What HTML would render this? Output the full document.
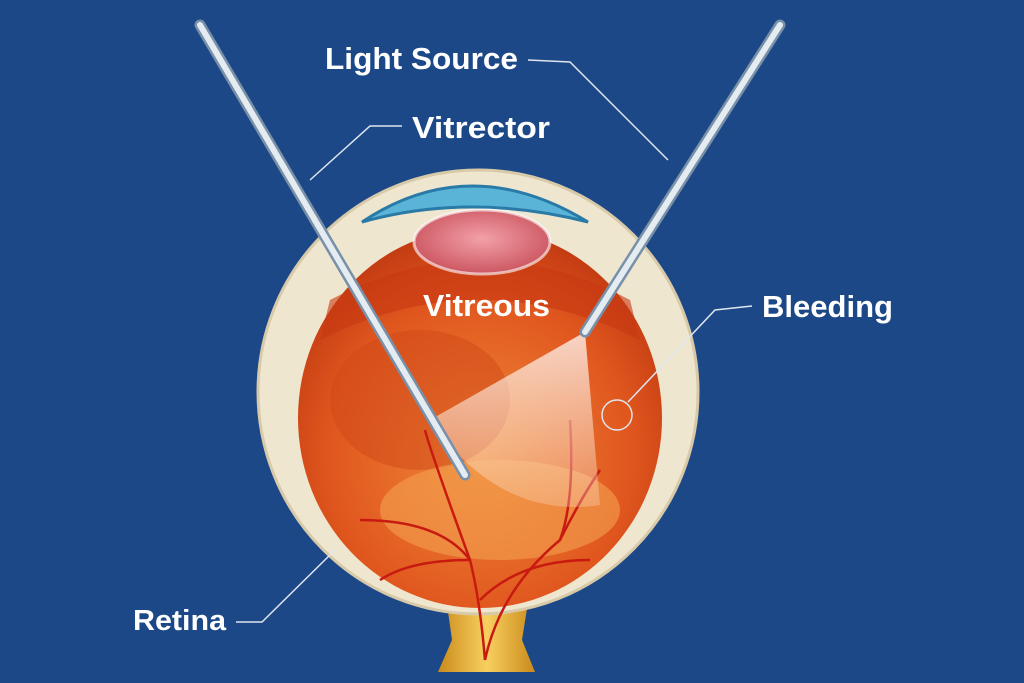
<!DOCTYPE html>
<html><head><meta charset="utf-8"><style>
html,body{margin:0;padding:0;background:#1e4a8a;}
svg{display:block}
text{font-family:"Liberation Sans",sans-serif;font-weight:bold;fill:#fff;}
</style></head><body>
<svg width="1024" height="683" viewBox="0 0 1024 683" xmlns="http://www.w3.org/2000/svg">
<defs>
<radialGradient id="inner" cx="50%" cy="60%" r="60%"><stop offset="0" stop-color="#f08a3a"/><stop offset="0.7" stop-color="#e0561e"/><stop offset="1" stop-color="#c23a12"/></radialGradient>
<radialGradient id="lens" cx="50%" cy="45%" r="60%"><stop offset="0" stop-color="#f3a0a8"/><stop offset="1" stop-color="#c8505a"/></radialGradient>
<linearGradient id="cone" x1="0" y1="0" x2="0" y2="1"><stop offset="0" stop-color="#fff" stop-opacity="0.75"/><stop offset="1" stop-color="#fde0c8" stop-opacity="0.3"/></linearGradient>
<linearGradient id="nerve" x1="0" y1="0" x2="1" y2="0"><stop offset="0" stop-color="#c98a1a"/><stop offset="0.5" stop-color="#f8d060"/><stop offset="1" stop-color="#c98a1a"/></linearGradient>
</defs>
<rect width="1024" height="683" fill="#1c4888"/>
<path d="M445 590 L530 590 L522 640 L535 672 L438 672 L452 640 Z" fill="url(#nerve)"/>
<ellipse cx="478" cy="392" rx="220" ry="222" fill="#efe6cf" stroke="#d8caa8" stroke-width="3"/>
<path d="M362 222 Q470 150 588 222 Q470 192 362 222 Z" fill="#5ab4d8" stroke="#2a7aa8" stroke-width="3"/>
<ellipse cx="480" cy="418" rx="182" ry="190" fill="url(#inner)"/>
<path d="M330 300 Q480 220 630 300 L640 340 Q480 260 320 340 Z" fill="#c83812" opacity="0.6"/>
<ellipse cx="420" cy="400" rx="90" ry="70" fill="#d04818" opacity="0.5"/>
<ellipse cx="500" cy="510" rx="120" ry="50" fill="#f3a050" opacity="0.6"/>
<ellipse cx="482" cy="242" rx="68" ry="32" fill="url(#lens)" stroke="#fff" stroke-opacity="0.6" stroke-width="3"/>
<g stroke="#c81a10" stroke-width="2.5" fill="none">
<path d="M485 660 Q480 600 470 560 Q440 520 360 520"/>
<path d="M485 660 Q500 590 560 540 Q580 500 600 470"/>
<path d="M470 560 Q430 450 425 430"/>
<path d="M480 600 Q520 560 590 560"/>
<path d="M470 560 Q410 560 380 580"/>
<path d="M560 540 Q575 500 570 420"/>
</g>
<path d="M585 332 L430 420 Q500 520 600 505 Z" fill="url(#cone)"/>
<g stroke-linecap="round">
<line x1="200" y1="25" x2="465" y2="475" stroke="#7890a8" stroke-width="11"/>
<line x1="200" y1="25" x2="465" y2="475" stroke="#e4ecf2" stroke-width="6"/>
<line x1="780" y1="25" x2="585" y2="332" stroke="#7890a8" stroke-width="11"/>
<line x1="780" y1="25" x2="585" y2="332" stroke="#e4ecf2" stroke-width="6"/>
</g>
<g stroke="#dfe6ee" stroke-width="1.5" fill="none">
<path d="M528 60 L570 62 L668 160"/>
<path d="M402 126 L370 126 L310 180"/>
<path d="M752 306 L715 310 L628 402"/>
<circle cx="617" cy="415" r="15"/>
<path d="M236 622 L262 622 L335 550"/>
</g>
<text x="325" y="69" font-size="31" textLength="193" lengthAdjust="spacingAndGlyphs">Light Source</text>
<text x="412" y="138" font-size="31" textLength="138" lengthAdjust="spacingAndGlyphs">Vitrector</text>
<text x="423" y="316" font-size="31" textLength="127" lengthAdjust="spacingAndGlyphs">Vitreous</text>
<text x="762" y="317" font-size="31" textLength="131" lengthAdjust="spacingAndGlyphs">Bleeding</text>
<text x="133" y="630" font-size="29" textLength="93" lengthAdjust="spacingAndGlyphs">Retina</text>
</svg>
</body></html>
